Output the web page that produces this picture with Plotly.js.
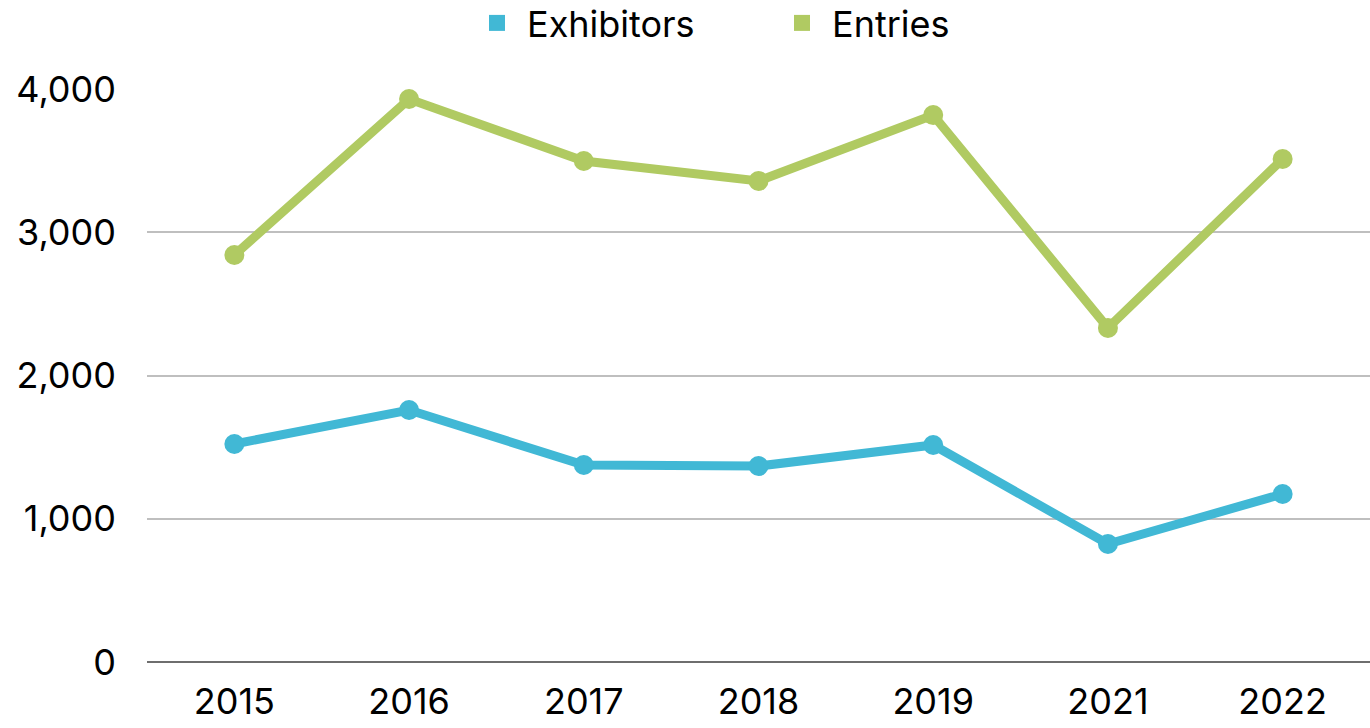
<!DOCTYPE html>
<html><head><meta charset="utf-8">
<script src="https://cdn.plot.ly/plotly-3.0.1.min.js"></script>
<style>html,body{margin:0;padding:0;background:#fff}#chart{width:1370px;height:728px}</style>
</head><body><div id="chart"></div>
<script>
const years = ['2015','2016','2017','2018','2019','2021','2022'];
const exhibitors = [1522, 1759, 1375, 1368, 1515, 824, 1173];
const entries = [2841, 3930, 3497, 3358, 3818, 2332, 3511];
const seriesNames = ['Exhibitors', 'Entries'];
const colors = ['#41B8D5', '#B0CA62'];
const yTicks = [0, 1000, 2000, 3000, 4000];

const font = {family: 'Inter, "Open Sans", sans-serif', color: '#000'};
const data = [
  {x: years, y: exhibitors, name: seriesNames[0], mode: 'lines+markers', showlegend: false,
   line: {color: colors[0], width: 9}, marker: {color: colors[0], size: 20}},
  {x: years, y: entries, name: seriesNames[1], mode: 'lines+markers', showlegend: false,
   line: {color: colors[1], width: 9}, marker: {color: colors[1], size: 20}},
  {x: [null], y: [null], name: seriesNames[0], mode: 'markers', marker: {color: colors[0], size: 22, symbol: 'square'}},
  {x: [null], y: [null], name: seriesNames[1], mode: 'markers', marker: {color: colors[1], size: 22, symbol: 'square'}}
];
const layout = {
  width: 1370, height: 728,
  margin: {l: 147, r: 0, t: 89, b: 66},
  paper_bgcolor: '#fff', plot_bgcolor: '#fff',
  font: Object.assign({size: 34}, font),
  showlegend: true,
  legend: {orientation: 'h', xref: 'container', yref: 'container', x: 467/1370, xanchor: 'left', y: 1 - 23/728, yanchor: 'middle',
           font: Object.assign({size: 36}, font), itemwidth: 50, entrywidth: 240, entrywidthmode: 'pixels',
           tracegroupgap: 0, bgcolor: 'rgba(0,0,0,0)'},
  xaxis: {type: 'category', range: [-0.5, 6.5], showgrid: false, zeroline: false, showline: false,
          ticks: '', tickfont: Object.assign({size: 36}, font), ticklabelstandoff: 15, fixedrange: true},
  yaxis: {range: [0, 4000], tickvals: yTicks, ticktext: yTicks.map(v => v.toLocaleString('en-US')),
          showgrid: true, gridcolor: '#BFBFBF', gridwidth: 2, zeroline: true, zerolinecolor: '#6E6E6E', zerolinewidth: 2,
          showline: false, ticks: '', tickfont: Object.assign({size: 36}, font), ticklabelstandoff: 30, fixedrange: true},
};
Plotly.newPlot('chart', data, layout, {displayModeBar: false, staticPlot: true});
</script></body></html>
